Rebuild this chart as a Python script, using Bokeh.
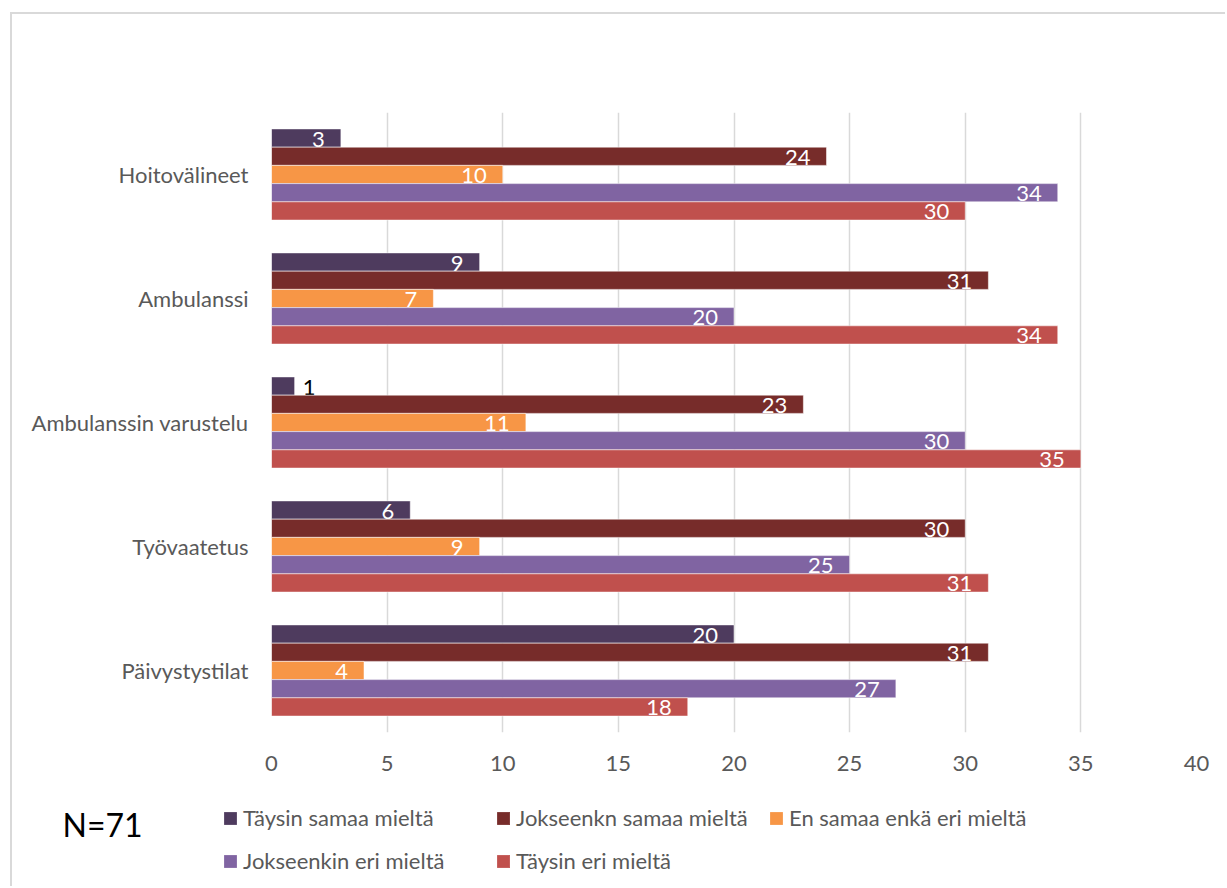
from bokeh.plotting import figure
from bokeh.layouts import column
from bokeh.models import FactorRange, ColumnDataSource, Legend, LegendItem, Label, Range1d, FixedTicker
from bokeh.transform import dodge
from bokeh.core.properties import value
from bokeh.embed import file_html
from bokeh.resources import INLINE

categories = ["Hoitovälineet", "Ambulanssi", "Ambulanssin varustelu", "Työvaatetus", "Päivystystilat"]
series_names = ["Täysin samaa mieltä", "Jokseenkn samaa mieltä", "En samaa enkä eri mieltä",
                "Jokseenkin eri mieltä", "Täysin eri mieltä"]
taysin_samaa = [3, 9, 1, 6, 20]
jokseenkin_samaa = [24, 31, 23, 30, 31]
ei_samaa_eika_eri = [10, 7, 11, 9, 4]
jokseenkin_eri = [34, 20, 30, 25, 27]
taysin_eri = [30, 34, 35, 31, 18]
series_values = [taysin_samaa, jokseenkin_samaa, ei_samaa_eika_eri, jokseenkin_eri, taysin_eri]
colors = ["#4E3B5E", "#772C2A", "#F79646", "#8064A2", "#C0504D"]
x_ticks = [0, 5, 10, 15, 20, 25, 30, 35, 40]
note_text = "N=71"

FONT = "Lato"
GREY = "#595959"

p = figure(
    y_range=FactorRange(factors=list(reversed(categories)), range_padding=0),
    x_range=Range1d(0, 40),
    frame_width=925, frame_height=620,
    min_border_left=259, min_border_right=31, min_border_top=98, min_border_bottom=60,
    output_backend="svg", toolbar_location=None,
    outline_line_color=None, background_fill_color="white", border_fill_color="white",
)
p.frame_align = False

bar_h = 0.147
for i, (name, vals, col) in enumerate(zip(series_names, series_values, colors)):
    off = (2 - i) * bar_h
    src = ColumnDataSource(dict(cat=categories, val=vals))
    p.hbar(y=dodge("cat", off, range=p.y_range), right="val", left=0, height=bar_h,
           source=src, fill_color=col, line_color="white", line_alpha=0.5, line_width=1)
    inside = [k for k, v in enumerate(vals) if v >= 2]
    outside = [k for k, v in enumerate(vals) if v < 2]
    if inside:
        s_in = ColumnDataSource(dict(cat=[categories[k] for k in inside], val=[vals[k] for k in inside],
                                     lab=[str(vals[k]) for k in inside]))
        p.text(x="val", y=dodge("cat", off, range=p.y_range), text="lab", source=s_in,
               text_align="right", text_baseline="middle", x_offset=-16, y_offset=1,
               text_color="white", text_font=value(FONT), text_font_size="22px")
    if outside:
        s_out = ColumnDataSource(dict(cat=[categories[k] for k in outside], val=[vals[k] for k in outside],
                                      lab=[str(vals[k]) for k in outside]))
        p.text(x="val", y=dodge("cat", off, range=p.y_range), text="lab", source=s_out,
               text_align="left", text_baseline="middle", x_offset=8, y_offset=1,
               text_color="black", text_font=value(FONT), text_font_size="22px")

p.xaxis.ticker = FixedTicker(ticks=x_ticks)
p.xaxis.axis_line_color = None
p.xaxis.major_tick_line_color = None
p.xaxis.minor_tick_line_color = None
p.xaxis.major_label_standoff = 17
p.xaxis.major_label_text_font = FONT
p.xaxis.major_label_text_font_size = "22px"
p.xaxis.major_label_text_color = GREY

p.yaxis.axis_line_color = None
p.yaxis.major_tick_line_color = None
p.yaxis.minor_tick_line_color = None
p.yaxis.major_label_standoff = 17
p.yaxis.major_label_text_font = FONT
p.yaxis.major_label_text_font_size = "22px"
p.yaxis.major_label_text_color = GREY

p.xgrid.grid_line_color = "#d9d9d9"
p.xgrid.grid_line_width = 1.5
p.ygrid.grid_line_color = None

# bottom strip: legend and note
p2 = figure(width=1215, height=96, x_range=Range1d(0, 1215), y_range=Range1d(0, 96),
            x_axis_type=None, y_axis_type=None, min_border=0,
            output_backend="svg", toolbar_location=None, outline_line_color=None,
            background_fill_color="white", border_fill_color="white")
p2.frame_align = False
p2.xgrid.visible = False
p2.ygrid.visible = False

nan = float("nan")
items = []
for name, col in zip(series_names, colors):
    r = p2.hbar(y=[nan], right=[nan], left=0, height=1, fill_color=col, line_color=None)
    items.append(LegendItem(label=name, renderers=[r]))

lg = Legend(items=items, location=(210, 14), orientation="horizontal", ncols=3,
            padding=0, margin=0, spacing=16, label_standoff=5, label_width=236, label_height=27,
            glyph_width=16, glyph_height=16,
            border_line_color=None, background_fill_alpha=0,
            label_text_font=FONT, label_text_font_size="22px", label_text_color=GREY)
p2.add_layout(lg, "center")

p2.add_layout(Label(x=50, y=64, text=note_text,
                    text_font=FONT, text_font_size="32px", text_color="black",
                    text_baseline="middle", text_align="left"))

layout = column(p, p2, spacing=0, margin=(14, 0, 0, 12),
                styles={"box-shadow": "-2px -2px 0 0 #d9d9d9"})

open("out.html", "w").write(file_html(layout, INLINE))
